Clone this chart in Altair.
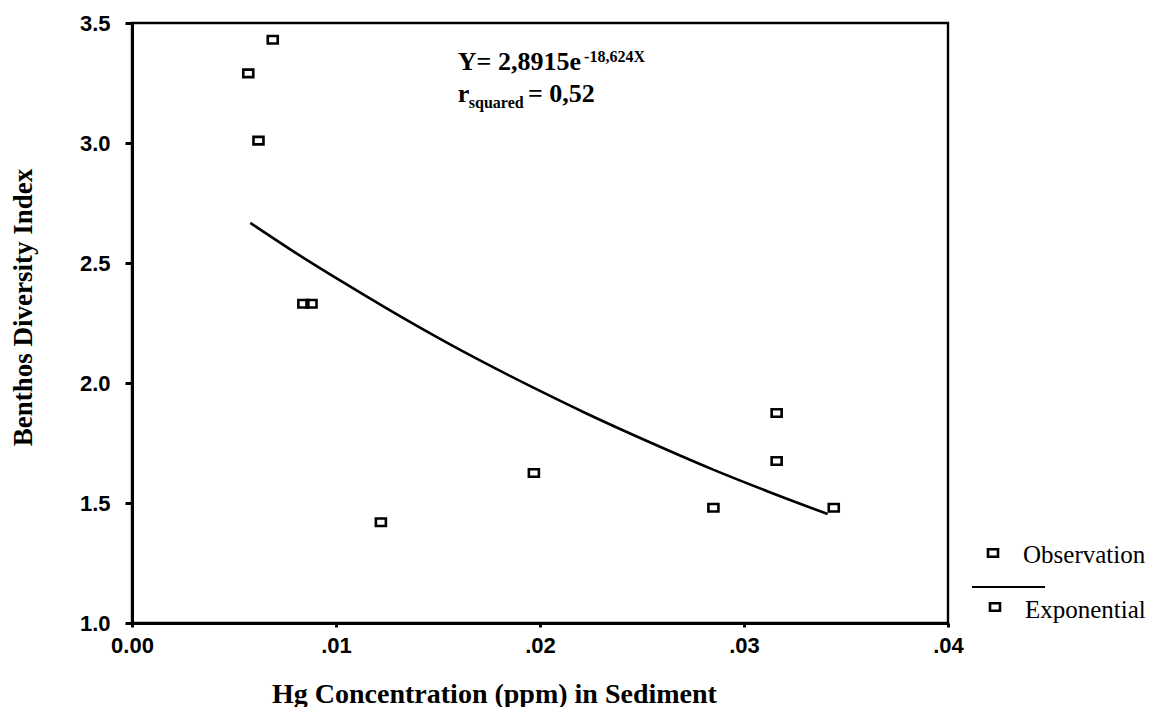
import altair as alt
import pandas as pd

# Observations (Hg ppm, Benthos Diversity Index)
obs_x = [0.0057, 0.0069, 0.0062, 0.0084, 0.0088, 0.0122, 0.0197, 0.0285, 0.0316, 0.0316, 0.0344]
obs_y = [3.29, 3.43, 3.01, 2.33, 2.33, 1.42, 1.625, 1.48, 1.875, 1.675, 1.48]

# Exponential fit curve
fit_x = [0.0058, 0.0081, 0.0103, 0.0124, 0.0155, 0.0199, 0.0222, 0.0253, 0.0284, 0.0312, 0.0341]
fit_y = [2.667, 2.538, 2.422, 2.315, 2.165, 1.971, 1.876, 1.756, 1.642, 1.547, 1.454]

x_ticks = [0, 0.01, 0.02, 0.03, 0.04]
y_ticks = [1.0, 1.5, 2.0, 2.5, 3.0, 3.5]

# Equation annotation pieces (data coordinates)
ann_text = ["Y= 2,8915e", "-18,624X", "r", "squared", "= 0,52"]
ann_x = [0.01597, 0.02216, 0.01597, 0.01651, 0.01941]
ann_y = [3.304, 3.3375, 3.171, 3.146, 3.171]
ann_size = [26, 16, 26, 16, 26]

obs = pd.DataFrame({"x": obs_x, "y": obs_y})
fit = pd.DataFrame({"x": fit_x, "y": fit_y})
ann = pd.DataFrame({"x": ann_x, "y": ann_y, "t": ann_text, "s": ann_size})

SERIF = "Liberation Serif"
SANS = "Liberation Sans"
BOX = "M-1,-0.75L1,-0.75L1,0.75L-1,0.75Z"

xscale = alt.Scale(domain=[0, 0.04], nice=False, zero=False)
yscale = alt.Scale(domain=[1.0, 3.5], nice=False, zero=False)

xaxis = alt.Axis(
    values=x_ticks,
    labelExpr="datum.value == 0 ? '0.00' : replace(format(datum.value, '.2f'), '0.', '.')",
    title="Hg Concentration (ppm) in Sediment",
    grid=False, tickSize=4, tickWidth=3, tickColor="black",
    domainColor="black", domainWidth=3,
    labelFont=SANS, labelFontWeight="bold", labelFontSize=22, labelColor="black",
    labelPadding=8, labelFlush=False, labelOverlap=False,
    titleFont=SERIF, titleFontWeight="bold", titleFontSize=28, titleColor="black",
    titleX=362, titleY=79, titleBaseline="alphabetic",
)
yaxis = alt.Axis(
    values=y_ticks, format=".1f",
    title="Benthos Diversity Index",
    grid=False, tickSize=7, tickWidth=3, tickColor="black",
    domainColor="black", domainWidth=3,
    labelFont=SANS, labelFontWeight="bold", labelFontSize=22, labelColor="black",
    labelPadding=15, labelOverlap=False,
    titleFont=SERIF, titleFontWeight="bold", titleFontSize=27, titleColor="black",
    titleX=-109, titleY=284, titleBaseline="middle", titleAngle=-90,
)

points = alt.Chart(obs).mark_point(
    shape=BOX, size=100, filled=False, stroke="black", strokeWidth=2.6, opacity=1
).encode(
    x=alt.X("x:Q", scale=xscale, axis=xaxis),
    y=alt.Y("y:Q", scale=yscale, axis=yaxis),
)

line = alt.Chart(fit).mark_line(color="black", strokeWidth=2.6, interpolate="monotone").encode(
    x=alt.X("x:Q", scale=xscale),
    y=alt.Y("y:Q", scale=yscale),
)

annot = alt.Chart(ann).mark_text(
    font=SERIF, fontWeight="bold", align="left", baseline="alphabetic", color="black"
).encode(
    x=alt.X("x:Q", scale=xscale),
    y=alt.Y("y:Q", scale=yscale),
    text="t:N",
    size=alt.Size("s:Q", scale=None, legend=None),
)

one = alt.Data(values=[{"k": 1}])
leg_sq1 = alt.Chart(one).mark_point(
    shape=BOX, size=100, filled=False, stroke="black", strokeWidth=2.6, opacity=1
).encode(x=alt.value(861), y=alt.value(530))
leg_sq2 = alt.Chart(one).mark_point(
    shape=BOX, size=100, filled=False, stroke="black", strokeWidth=2.6, opacity=1
).encode(x=alt.value(863), y=alt.value(584))
leg_line = alt.Chart(one).mark_rule(color="black", strokeWidth=2).encode(
    x=alt.value(840), x2=alt.value(913), y=alt.value(564)
)
leg_t1 = alt.Chart(one).mark_text(
    font=SERIF, fontSize=25, align="left", baseline="alphabetic", color="black"
).encode(x=alt.value(891), y=alt.value(540), text=alt.value("Observation"))
leg_t2 = alt.Chart(one).mark_text(
    font=SERIF, fontSize=25, align="left", baseline="alphabetic", color="black"
).encode(x=alt.value(893), y=alt.value(595), text=alt.value("Exponential"))

chart = alt.layer(
    line, points, annot, leg_sq1, leg_sq2, leg_line, leg_t1, leg_t2
).properties(
    width=816, height=600,
    autosize=alt.AutoSizeParams(type="none"),
    padding={"left": 124, "top": 15, "right": 201, "bottom": 84},
    background="white",
).configure_view(
    stroke="black", strokeWidth=2.4
)

chart.save("out.html", embed_options={"renderer": "svg", "actions": False})
